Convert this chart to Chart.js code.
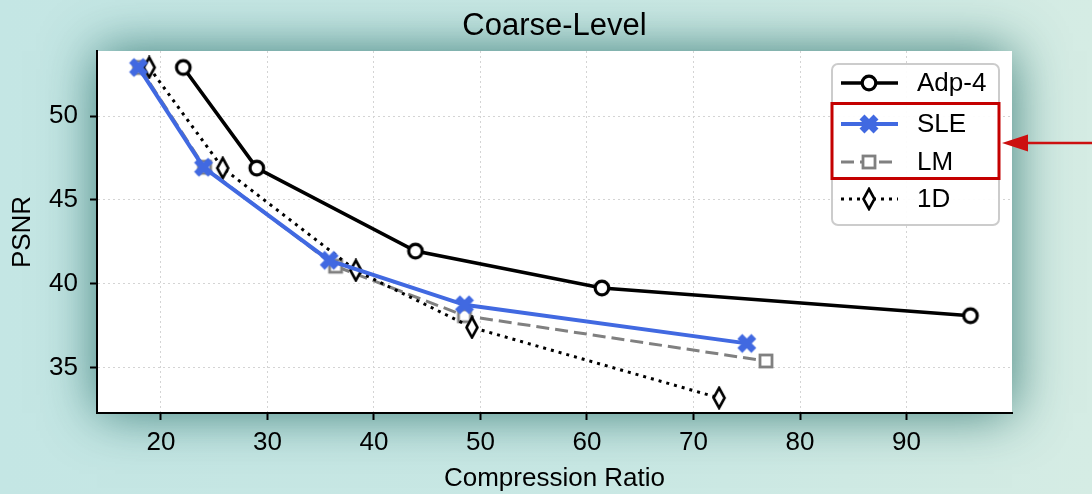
<!DOCTYPE html>
<html>
<head>
<meta charset="utf-8">
<script src="https://cdn.jsdelivr.net/npm/chart.js@4.4.1/dist/chart.umd.min.js"></script>
<style>
  html, body { margin: 0; padding: 0; }
  body {
    width: 1092px; height: 494px; overflow: hidden;
    background: linear-gradient(90deg, #c4e6e4 0%, #c9e8e4 55%, #d5ece4 100%);
  }
  #wrap { position: relative; width: 1092px; height: 494px; }
</style>
</head>
<body>
<div id="wrap"><canvas id="c" width="1092" height="494"></canvas></div>
<script>
// ---- data ----
const seriesNames = ['Adp-4', 'SLE', 'LM', '1D'];
const adpX = [22.1, 29.0, 43.9, 61.4, 96.0];
const adpY = [52.9, 46.9, 41.95, 39.75, 38.1];
const sleX = [17.9, 24.0, 35.8, 48.5, 75.0];
const sleY = [52.9, 46.95, 41.4, 38.75, 36.45];
const lmX  = [18.0, 24.1, 36.4, 48.5, 76.8];
const lmY  = [52.9, 46.95, 41.05, 38.1, 35.4];
const d1X  = [18.9, 25.8, 38.3, 49.2, 72.4];
const d1Y  = [52.9, 46.9, 40.8, 37.4, 33.2];
const xTicks = [20, 30, 40, 50, 60, 70, 80, 90];
const yTicks = [35, 40, 45, 50];
const chartTitle = 'Coarse-Level';
const xTitle = 'Compression Ratio';
const yTitle = 'PSNR';

const FONT = '"Liberation Sans", Arial, Helvetica, sans-serif';
const BLUE = '#4169e1';
const GRAY = '#808080';

function pts(xs, ys) { return xs.map((x, i) => ({ x: x, y: ys[i] })); }

function mk(w, h, fn) {
  const c = document.createElement('canvas');
  c.width = w; c.height = h;
  fn(c.getContext('2d'), w, h);
  return c;
}
const circleMarker = mk(20, 20, (g) => {
  g.beginPath(); g.arc(10, 10, 6.8, 0, Math.PI * 2);
  g.fillStyle = '#fff'; g.fill();
  g.lineWidth = 3.2; g.strokeStyle = '#000'; g.stroke();
});
const xMarker = mk(22, 22, (g) => {
  g.strokeStyle = BLUE; g.lineWidth = 7; g.lineCap = 'butt';
  g.beginPath(); g.moveTo(4, 4); g.lineTo(18, 18); g.moveTo(18, 4); g.lineTo(4, 18); g.stroke();
  g.fillStyle = BLUE; g.fillRect(8, 8, 6, 6);
});
const squareMarker = mk(18, 18, (g) => {
  g.fillStyle = '#fff'; g.fillRect(3, 3, 12, 12);
  g.lineWidth = 2.8; g.strokeStyle = GRAY; g.strokeRect(3, 3, 12, 12);
});
const diamondMarker = mk(16, 24, (g) => {
  g.beginPath(); g.moveTo(8, 2); g.lineTo(13.5, 12); g.lineTo(8, 22); g.lineTo(2.5, 12); g.closePath();
  g.fillStyle = '#fff'; g.fill();
  g.lineWidth = 2.6; g.strokeStyle = '#000'; g.lineJoin = 'miter'; g.stroke();
});

const styles = [
  { color: '#000', width: 3.6, dash: [], marker: circleMarker },
  { color: BLUE, width: 4, dash: [], marker: xMarker },
  { color: GRAY, width: 3, dash: [13, 6], marker: squareMarker },
  { color: '#000', width: 3, dash: [3, 5], marker: diamondMarker }
];
const seriesData = [pts(adpX, adpY), pts(sleX, sleY), pts(lmX, lmY), pts(d1X, d1Y)];

const datasets = seriesNames.map((name, i) => ({
  label: name,
  data: seriesData[i],
  borderColor: styles[i].color,
  borderWidth: styles[i].width,
  borderDash: styles[i].dash,
  pointStyle: styles[i].marker,
  pointRadius: 9,
  pointHoverRadius: 9,
  tension: 0,
  fill: false,
  order: [4, 1, 3, 2][i]
}));

const bgPlugin = {
  id: 'bgPlugin',
  beforeDraw(chart) {
    const { ctx, chartArea: a } = chart;
    ctx.save();
    ctx.shadowColor = 'rgba(25, 100, 95, 0.8)';
    ctx.shadowBlur = 50;
    ctx.fillStyle = '#ffffff';
    ctx.fillRect(a.left, a.top, a.right - a.left, a.bottom - a.top);
    ctx.restore();
  },
  afterDraw(chart) {
    const { ctx, chartArea: a } = chart;
    ctx.save();
    // title
    ctx.fillStyle = '#000';
    ctx.font = '31px ' + FONT;
    ctx.textAlign = 'center';
    ctx.textBaseline = 'alphabetic';
    ctx.fillText(chartTitle, (a.left + a.right) / 2, 35);

    // legend box
    const bx = 832, by = 64, bw = 167, bh = 161, r = 6;
    ctx.beginPath();
    ctx.moveTo(bx + r, by); ctx.lineTo(bx + bw - r, by);
    ctx.arcTo(bx + bw, by, bx + bw, by + r, r); ctx.lineTo(bx + bw, by + bh - r);
    ctx.arcTo(bx + bw, by + bh, bx + bw - r, by + bh, r); ctx.lineTo(bx + r, by + bh);
    ctx.arcTo(bx, by + bh, bx, by + bh - r, r); ctx.lineTo(bx, by + r);
    ctx.arcTo(bx, by, bx + r, by, r); ctx.closePath();
    ctx.fillStyle = 'rgba(255,255,255,0.92)'; ctx.fill();
    ctx.lineWidth = 2; ctx.strokeStyle = '#cccccc'; ctx.stroke();

    const rows = [83, 124, 162, 199];
    seriesNames.forEach((name, i) => {
      const y = rows[i];
      const s = styles[i];
      ctx.save();
      ctx.beginPath();
      ctx.setLineDash(s.dash);
      ctx.lineWidth = s.width; ctx.strokeStyle = s.color;
      ctx.moveTo(841, y); ctx.lineTo(898, y); ctx.stroke();
      ctx.restore();
      const m = s.marker;
      ctx.drawImage(m, 869 - m.width / 2, y - m.height / 2);
      ctx.fillStyle = '#000';
      ctx.font = '26px ' + FONT;
      ctx.textAlign = 'left';
      ctx.textBaseline = 'middle';
      ctx.fillText(name, 917, y + 1);
    });

    // red highlight box
    ctx.lineWidth = 3; ctx.strokeStyle = '#c40000';
    ctx.strokeRect(832, 103.5, 167, 75);

    // arrow
    ctx.strokeStyle = '#cc1010'; ctx.fillStyle = '#cc1010';
    ctx.lineWidth = 2.4;
    ctx.beginPath(); ctx.moveTo(1092, 143); ctx.lineTo(1022, 143); ctx.stroke();
    ctx.beginPath(); ctx.moveTo(1002, 143); ctx.lineTo(1028, 134.5); ctx.lineTo(1028, 151.5); ctx.closePath(); ctx.fill();
    ctx.restore();
  }
};

new Chart(document.getElementById('c'), {
  type: 'line',
  data: { datasets },
  plugins: [bgPlugin],
  options: {
    responsive: false,
    animation: false,
    events: [],
    layout: { padding: { left: 0, right: 80, top: 51, bottom: 0 } },
    plugins: { legend: { display: false }, title: { display: false }, tooltip: { enabled: false } },
    scales: {
      x: {
        type: 'linear',
        min: 14, max: 99.9,
        afterFit(s) { s.height = 81; },
        afterBuildTicks(s) { s.ticks = xTicks.map(v => ({ value: v })); },
        ticks: { color: '#000', font: { family: FONT, size: 26 }, padding: 7, maxRotation: 0, autoSkip: false },
        grid: { color: '#d4d4d4', lineWidth: 1, tickColor: '#000', tickWidth: 2, tickLength: 7 },
        border: { display: true, color: '#000', width: 2, dash: [2, 3] },
        title: { display: true, text: xTitle, color: '#000', font: { family: FONT, size: 26 }, padding: { top: 0, bottom: 0 } }
      },
      y: {
        type: 'linear',
        min: 32.3, max: 53.88,
        afterFit(s) { s.width = 97; },
        afterBuildTicks(s) { s.ticks = yTicks.map(v => ({ value: v })); },
        ticks: { color: '#000', font: { family: FONT, size: 26 }, padding: 12, autoSkip: false },
        grid: { color: '#d4d4d4', lineWidth: 1, tickColor: '#000', tickWidth: 2, tickLength: 7 },
        border: { display: true, color: '#000', width: 2, dash: [2, 3] },
        title: { display: true, text: yTitle, color: '#000', font: { family: FONT, size: 26 }, padding: { top: 7, bottom: 0 } }
      }
    }
  }
});
</script>
</body>
</html>
